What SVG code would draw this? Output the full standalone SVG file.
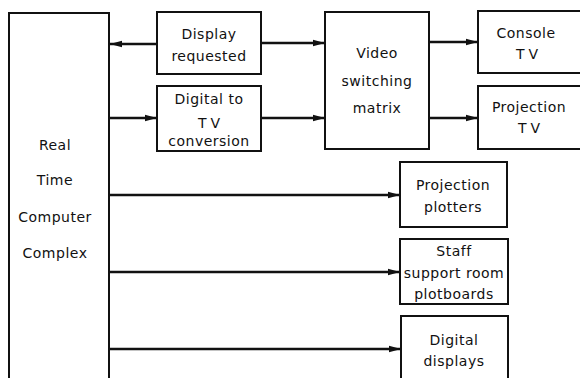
<svg xmlns="http://www.w3.org/2000/svg" width="580" height="378" viewBox="0 0 580 378">
<defs>
<marker id="ah" viewBox="0 0 12 8" refX="12" refY="4" markerWidth="12" markerHeight="8" markerUnits="userSpaceOnUse" orient="auto">
<path d="M0,0.8 L12,4 L0,7.2 Z" fill="#111"/>
</marker>
<style>
.box{fill:#fff;stroke:#111;stroke-width:2}
.t{font-family:"DejaVu Sans","Liberation Sans",sans-serif;font-size:14px;fill:#111;text-anchor:middle;letter-spacing:0.5px}
.c{stroke:#111;stroke-width:2.6;fill:none}
</style>
</defs>
<rect width="580" height="378" fill="#fff"/>
<g id="connectors">
<line class="c" x1="157" y1="44" x2="110" y2="44" marker-end="url(#ah)"/>
<line class="c" x1="110" y1="118" x2="157" y2="118" marker-end="url(#ah)"/>
<line class="c" x1="261" y1="43" x2="325" y2="43" marker-end="url(#ah)"/>
<line class="c" x1="261" y1="118" x2="325" y2="118" marker-end="url(#ah)"/>
<line class="c" x1="429" y1="42" x2="478" y2="42" marker-end="url(#ah)"/>
<line class="c" x1="429" y1="118" x2="478" y2="118" marker-end="url(#ah)"/>
<line class="c" x1="110" y1="195" x2="400" y2="195" marker-end="url(#ah)"/>
<line class="c" x1="110" y1="272" x2="400" y2="272" marker-end="url(#ah)"/>
<line class="c" x1="110" y1="349" x2="401" y2="349" marker-end="url(#ah)"/>
</g>
<g id="rtcc">
<path class="box" d="M9,380 V13 H109 V380"/>
<text class="t" x="55" y="150">Real</text>
<text class="t" x="55" y="185">Time</text>
<text class="t" x="55" y="222">Computer</text>
<text class="t" x="55" y="258">Complex</text>
</g>
<g id="display-requested">
<rect class="box" x="157" y="12" width="104" height="62"/>
<text class="t" x="209" y="39">Display</text>
<text class="t" x="209" y="61">requested</text>
</g>
<g id="digital-to-tv">
<rect class="box" x="157" y="86" width="104" height="65"/>
<text class="t" x="209" y="104">Digital to</text>
<text class="t" x="211" y="128" style="letter-spacing:4px">TV</text>
<text class="t" x="209" y="146">conversion</text>
</g>
<g id="video-matrix">
<rect class="box" x="325" y="12" width="104" height="137"/>
<text class="t" x="377" y="58">Video</text>
<text class="t" x="377" y="86">switching</text>
<text class="t" x="377" y="113">matrix</text>
</g>
<g id="console-tv">
<path class="box" d="M582,11 H478 V73 H582"/>
<text class="t" x="526" y="38">Console</text>
<text class="t" x="529" y="59" style="letter-spacing:4px">TV</text>
</g>
<g id="projection-tv">
<path class="box" d="M582,86 H478 V149 H582"/>
<text class="t" x="529" y="112">Projection</text>
<text class="t" x="531" y="133" style="letter-spacing:4px">TV</text>
</g>
<g id="projection-plotters">
<rect class="box" x="400" y="162" width="107" height="65"/>
<text class="t" x="453" y="190">Projection</text>
<text class="t" x="453" y="212">plotters</text>
</g>
<g id="staff-plotboards">
<rect class="box" x="400" y="239" width="108" height="65"/>
<text class="t" x="454" y="256">Staff</text>
<text class="t" x="454" y="278">support room</text>
<text class="t" x="454" y="299">plotboards</text>
</g>
<g id="digital-displays">
<path class="box" d="M401,380 V316 H508 V380"/>
<text class="t" x="454" y="345">Digital</text>
<text class="t" x="454" y="366">displays</text>
</g>
</svg>
